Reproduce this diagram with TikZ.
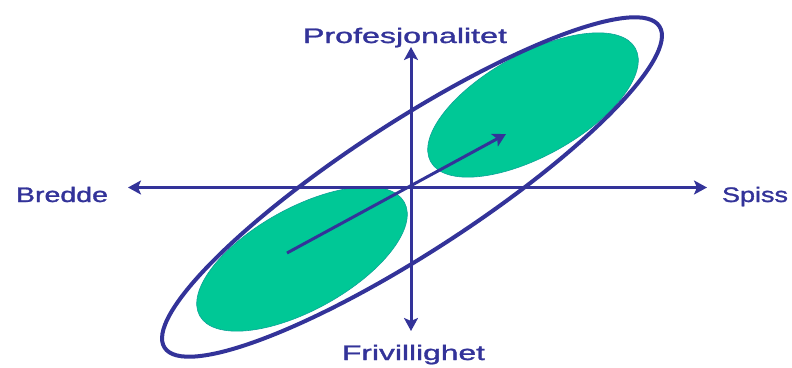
\documentclass[tikz,border=0pt]{standalone}
\usepackage{fontspec}
\setmainfont{Liberation Sans}
\newfontfamily\lblfont{Liberation Sans}[FakeBold=1.2]
\usetikzlibrary{arrows.meta}
\definecolor{navy}{HTML}{333399}
\definecolor{mint}{HTML}{00C896}
\newcommand\stretchto[2]{\resizebox{#1}{\height}{\fontsize{21}{25}\lblfont #2}}
\begin{document}
\begin{tikzpicture}[x=1pt,y=-1pt,
  axisline/.style={draw=navy, line width=3pt, {Stealth[length=13pt,width=14pt,inset=3pt]}-{Stealth[length=13pt,width=14pt,inset=3pt]}},
  growth/.style={draw=navy, line width=3pt, -{Stealth[length=13pt,width=14pt,inset=3pt]}},
  lbl/.style={text=navy, inner sep=0pt, anchor=base},
  blob/.style={fill=mint, draw=mint!75!navy, line width=0.6pt},
  ring/.style={draw=navy, line width=4pt}]
\useasboundingbox (0,0) rectangle (792,367);
% green areas
\draw[blob, rotate around={29:(302,259)}] (302,259) ellipse [x radius=117pt, y radius=51pt];
\draw[blob, rotate around={29:(533,105)}] (533,105) ellipse [x radius=117pt, y radius=51pt];
% big ring
\draw[ring, rotate around={33:(412,187)}] (412,187) ellipse [x radius=295pt, y radius=65pt];
% axes
\coordinate (L) at (128,187.5);
\coordinate (R) at (707,187.5);
\coordinate (T) at (411,47);
\coordinate (B) at (411,331);
\draw[axisline] (L) -- (R);
\draw[axisline] (B) -- (T);
% growth arrow
\coordinate (g0) at (287,253);
\coordinate (g1) at (506,134);
\draw[growth] (g0) -- (g1);
% labels
\node[lbl] (prof) at (405,43) {\stretchto{204pt}{Profesjonalitet}};
\node[lbl] (bred) at (62,202) {\stretchto{92pt}{Bredde}};
\node[lbl] (spis) at (755,202) {\stretchto{66pt}{Spiss}};
\node[lbl] (friv) at (413.5,360) {\stretchto{143pt}{Frivillighet}};
\end{tikzpicture}
\end{document}
